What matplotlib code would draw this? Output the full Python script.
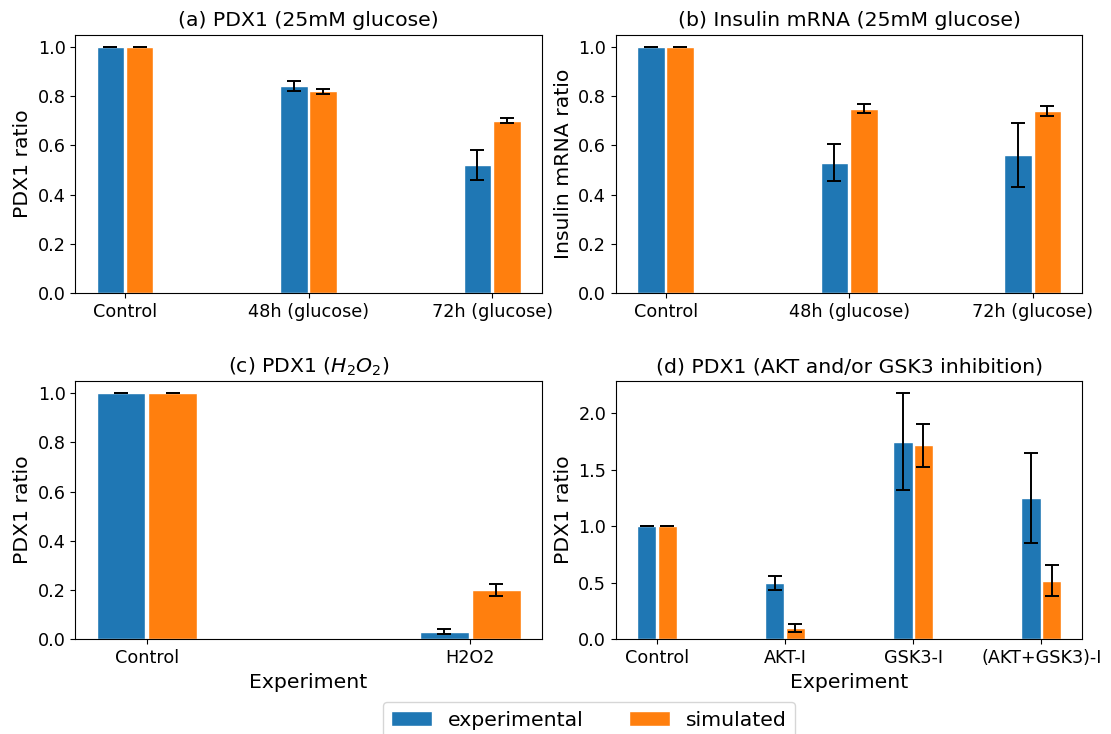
import numpy as np
import matplotlib.pyplot as plt

# PDX1 under 25mM glucose
glc_labels = ['Control', '48h (glucose)', '72h (glucose)']
pdx1_glc_exp = [1.0, 0.84, 0.52]
pdx1_glc_exp_err = [0.0, 0.02, 0.06]
pdx1_glc_sim = [1.0, 0.82, 0.70]
pdx1_glc_sim_err = [0.0, 0.01, 0.01]

# insulin mRNA under 25mM glucose
ins_glc_exp = [1.0, 0.53, 0.56]
ins_glc_exp_err = [0.0, 0.075, 0.13]
ins_glc_sim = [1.0, 0.75, 0.74]
ins_glc_sim_err = [0.0, 0.02, 0.02]

# PDX1 under H2O2
h2o2_labels = ['Control', 'H2O2']
pdx1_h2o2_exp = [1.0, 0.03]
pdx1_h2o2_exp_err = [0.0, 0.01]
pdx1_h2o2_sim = [1.0, 0.20]
pdx1_h2o2_sim_err = [0.0, 0.025]

# PDX1 with AKT and/or GSK3 inhibition
inh_labels = ['Control', 'AKT-I', 'GSK3-I', '(AKT+GSK3)-I']
pdx1_inh_exp = [1.0, 0.50, 1.75, 1.25]
pdx1_inh_exp_err = [0.0, 0.06, 0.43, 0.40]
pdx1_inh_sim = [1.0, 0.10, 1.72, 0.52]
pdx1_inh_sim_err = [0.0, 0.035, 0.19, 0.135]

W = 0.15
OFF = 0.08
FS = 14.7
err_kw = dict(ecolor='black', elinewidth=1.4, capthick=1.4)


def draw(ax, labels, exp, exp_err, sim, sim_err, title, ylabel, xlabel=None):
    x = np.arange(len(labels))
    ax.bar(x - OFF, exp, W, yerr=exp_err, capsize=5, color='tab:blue',
           edgecolor='white', label='experimental', error_kw=err_kw)
    ax.bar(x + OFF, sim, W, yerr=sim_err, capsize=5, color='tab:orange',
           edgecolor='white', label='simulated', error_kw=err_kw)
    ax.set_xticks(x)
    ax.set_xticklabels(labels)
    ax.tick_params(labelsize=12.7)
    ax.set_title(title, fontsize=FS)
    ax.set_ylabel(ylabel, fontsize=FS)
    if xlabel:
        ax.set_xlabel(xlabel, fontsize=FS)


fig, axs = plt.subplots(2, 2, figsize=(11.11, 7.34), dpi=100)
plt.subplots_adjust(left=0.0678, right=0.9742, bottom=0.129, top=0.9527,
                    wspace=0.159, hspace=0.339)

draw(axs[0, 0], glc_labels, pdx1_glc_exp, pdx1_glc_exp_err, pdx1_glc_sim,
     pdx1_glc_sim_err, '(a) PDX1 (25mM glucose)', 'PDX1 ratio')
draw(axs[0, 1], glc_labels, ins_glc_exp, ins_glc_exp_err, ins_glc_sim,
     ins_glc_sim_err, '(b) Insulin mRNA (25mM glucose)', 'Insulin mRNA ratio')
draw(axs[1, 0], h2o2_labels, pdx1_h2o2_exp, pdx1_h2o2_exp_err, pdx1_h2o2_sim,
     pdx1_h2o2_sim_err, '(c) PDX1 ($H_2O_2$)', 'PDX1 ratio', 'Experiment')
draw(axs[1, 1], inh_labels, pdx1_inh_exp, pdx1_inh_exp_err, pdx1_inh_sim,
     pdx1_inh_sim_err, '(d) PDX1 (AKT and/or GSK3 inhibition)', 'PDX1 ratio',
     'Experiment')

handles, labels = axs[0, 0].get_legend_handles_labels()
fig.legend(handles, labels, loc='upper center', bbox_to_anchor=(0.53, 0.057),
           ncol=2, fontsize=FS, columnspacing=2.2)

fig.savefig('out.png', dpi=100)
